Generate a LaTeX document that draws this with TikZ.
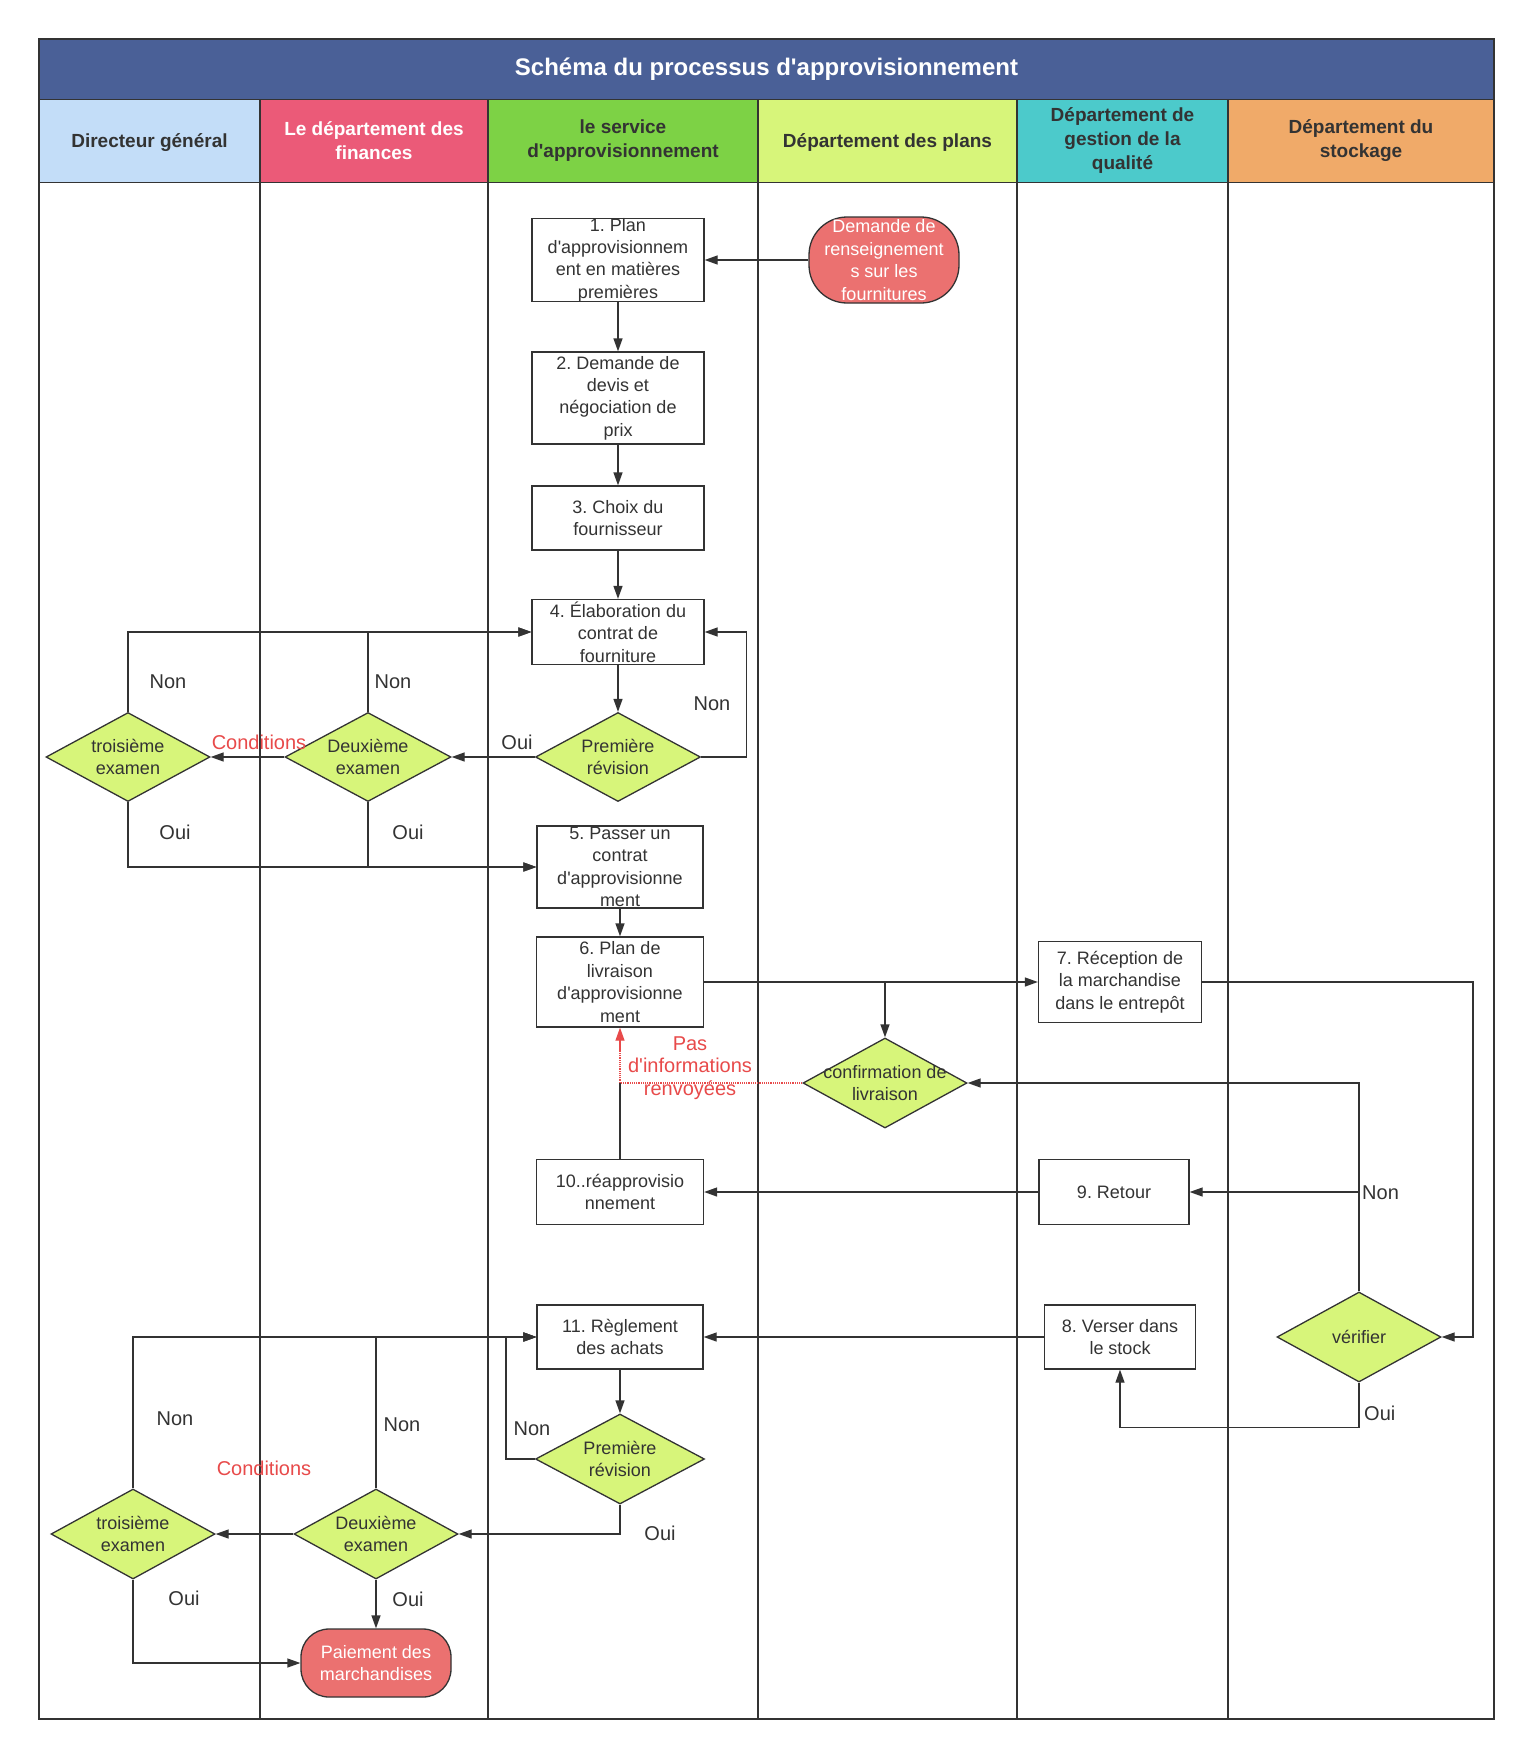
\documentclass[tikz,border=0pt]{standalone}
\usepackage{fontspec}
\setmainfont{Liberation Sans}
\usetikzlibrary{shapes.geometric,arrows.meta}
\definecolor{ink}{HTML}{333333}
\definecolor{titlebg}{HTML}{4A6097}
\definecolor{hdA}{HTML}{C3DDF8}
\definecolor{hdB}{HTML}{EB5A78}
\definecolor{hdC}{HTML}{7DD245}
\definecolor{hdD}{HTML}{D7F57A}
\definecolor{hdE}{HTML}{4CCACB}
\definecolor{hdF}{HTML}{F0AA69}
\definecolor{dfill}{HTML}{D7F57A}
\definecolor{rfill}{HTML}{EB7170}
\definecolor{redtxt}{HTML}{E84A4A}
\newcommand{\qs}{\textquotesingle}
\frenchspacing
\tikzset{
  lane/.style={draw=ink, line width=1.2pt},
  hdr/.style={align=center, inner sep=0, font=\fontsize{19}{24}\selectfont\bfseries, text=ink},
  boxs/.style={draw=ink, line width=1.3pt, fill=white, rectangle, inner sep=0},
  dias/.style={draw=ink, line width=1.3pt, fill=dfill, diamond, inner sep=0},
  terms/.style={draw=ink, line width=1.3pt, fill=rfill, rectangle, inner sep=0},
  txt/.style={align=center, inner sep=0, font=\fontsize{18}{22.4}\selectfont, text=ink},
  wtxt/.style={txt, text=white},
  lbl/.style={inner sep=0, font=\fontsize{20}{24}\selectfont, text=ink},
  rlbl/.style={align=center, inner sep=0, font=\fontsize{20}{22.4}\selectfont, text=redtxt},
  arr/.style={draw=ink, line width=1.3pt, -{Triangle[length=13pt,width=9pt]}},
  ln/.style={draw=ink, line width=1.3pt},
}
\begin{document}
\frenchspacing
\begin{tikzpicture}[x=1pt,y=-1pt]
\useasboundingbox (0,0) rectangle (1530,1755);
\fill[white] (0,0) rectangle (1530,1755);
% title and headers
\fill[titlebg] (39,39) rectangle (1494,99.6);
\node[inner sep=0, font=\fontsize{24}{28}\selectfont\bfseries, text=white] (title) at (766.5,69) {Schéma du processus d\qs approvisionnement};
\fill[hdA] (39,99.6) rectangle (260,182.5);
\fill[hdB] (260,99.6) rectangle (488,182.5);
\fill[hdC] (488,99.6) rectangle (758,182.5);
\fill[hdD] (758,99.6) rectangle (1017,182.5);
\fill[hdE] (1017,99.6) rectangle (1228,182.5);
\fill[hdF] (1228,99.6) rectangle (1494,182.5);
\node[hdr] (h1) at (149.5,143) {Directeur général};
\node[hdr, text=white] (h2) at (374,141) {Le département des\\finances};
\node[hdr] (h3) at (623,141) {le service\\d\qs approvisionnement};
\node[hdr] (h4) at (887.5,143) {Département des plans};
\node[hdr] (h5) at (1122.5,141) {Département de\\gestion de la\\qualité};
\node[hdr] (h6) at (1361,141) {Département du\\stockage};
% lanes
\draw[lane] (39,39) rectangle (1494,1719);
\draw[lane] (39,99.6) -- (1494,99.6);
\draw[lane] (39,182.5) -- (1494,182.5);
\foreach \xx in {260,488,758,1017,1228} \draw[lane] (\xx,99.6) -- (\xx,1719);

% nodes
\node[boxs, minimum width=172, minimum height=83] (n1) at (618,260) {};
\node[txt] (n1t) at (n1) {1. Plan\\d\qs approvisionnem\\ent en matières\\premières};
\node[terms, rounded corners=38pt, minimum width=150, minimum height=86] (dem) at (884,260) {};
\node[wtxt] (demt) at (dem) {Demande de\\renseignement\\s sur les\\fournitures};
\node[boxs, minimum width=172, minimum height=92] (n2) at (618,398) {};
\node[txt] (n2t) at (n2) {2. Demande de\\devis et\\négociation de\\prix};
\node[boxs, minimum width=172, minimum height=64] (n3) at (618,518) {};
\node[txt] (n3t) at (n3) {3. Choix du\\fournisseur};
\node[boxs, minimum width=172, minimum height=65] (n4) at (618,632) {};
\node[txt] (n4t) at (n4) {4. Élaboration du\\contrat de\\fourniture};
\node[dias, minimum width=165, minimum height=89] (d1) at (618,757) {};
\node[txt] (d1t) at (d1) {Première\\révision};
\node[dias, minimum width=166, minimum height=89] (d2) at (368,757) {};
\node[txt] (d2t) at (d2) {Deuxième\\examen};
\node[dias, minimum width=164, minimum height=89] (d3) at (128,757) {};
\node[txt] (d3t) at (d3) {troisième\\examen};
\node[boxs, minimum width=166, minimum height=82] (n5) at (620,867) {};
\node[txt] (n5t) at (n5) {5. Passer un\\contrat\\d\qs approvisionne\\ment};
\node[boxs, minimum width=167, minimum height=90] (n6) at (620,982) {};
\node[txt] (n6t) at (n6) {6. Plan de\\livraison\\d\qs approvisionne\\ment};
\node[boxs, minimum width=163, minimum height=81] (n7) at (1120,982) {};
\node[txt] (n7t) at (n7) {7. Réception de\\la marchandise\\dans le entrepôt};
\node[dias, minimum width=164, minimum height=90] (conf) at (885,1083) {};
\node[txt] (conft) at (conf) {confirmation de\\livraison};
\node[boxs, minimum width=150, minimum height=65] (r9) at (1114,1192) {};
\node[txt] (r9t) at (r9) {9. Retour};
\node[boxs, minimum width=167, minimum height=65] (n10) at (620,1192) {};
\node[txt] (n10t) at (n10) {10..réapprovisio\\nnement};
\node[dias, minimum width=164, minimum height=90] (ver) at (1359,1337) {};
\node[txt] (vert) at (ver) {vérifier};
\node[boxs, minimum width=151, minimum height=64] (n8) at (1120,1337) {};
\node[txt] (n8t) at (n8) {8. Verser dans\\le stock};
\node[boxs, minimum width=166, minimum height=64] (n11) at (620,1337) {};
\node[txt] (n11t) at (n11) {11. Règlement\\des achats};
\node[dias, minimum width=169, minimum height=90] (p2) at (620,1459) {};
\node[txt] (p2t) at (p2) {Première\\révision};
\node[dias, minimum width=164, minimum height=90] (d22) at (376,1534) {};
\node[txt] (d22t) at (d22) {Deuxième\\examen};
\node[dias, minimum width=164, minimum height=90] (d32) at (133,1534) {};
\node[txt] (d32t) at (d32) {troisième\\examen};
\node[terms, rounded corners=28pt, minimum width=150, minimum height=68] (pay) at (376,1663) {};
\node[wtxt] (payt) at (pay) {Paiement des\\marchandises};

% connectors - top part
\draw[arr] (dem.west) -- (n1.east);
\draw[arr] (n1.south) -- (n2.north);
\draw[arr] (n2.south) -- (n3.north);
\draw[arr] (n3.south) -- (n4.north);
\draw[arr] (n4.south) -- (d1.north);
\draw[arr] (d1.east) -- ++(45,0) |- (n4.east);
\draw[arr] (d1.west) -- (d2.east);
\draw[arr] (d2.west) -- (d3.east);
\draw[arr] (d2.north) |- (n4.west);
\draw[arr] (d3.north) |- (n4.west);
\draw[arr] (d2.south) |- (n5.west);
\draw[arr] (d3.south) |- (n5.west);
\draw[arr] (n5.south) -- (n6.north);
\node[lbl] (l1) at (712,704) {Non};
\node[lbl] (l2) at (517,742) {Oui};
\node[rlbl] (l3) at (259,742) {Conditions};
\node[lbl] (l4) at (393,682) {Non};
\node[lbl] (l5) at (168,682) {Non};
\node[lbl] (l6) at (408,832) {Oui};
\node[lbl] (l7) at (175,832) {Oui};

% middle part
\coordinate (c7) at (1473,982);
\draw[arr] (n6.east) -- (n7.west);
\draw[arr] (conf.north |- n6.east) -- (conf.north);
\draw[arr] (n7.east) -- (c7) |- (ver.east);
\draw[arr] (ver.north) |- (conf.east);
\draw[arr] (ver.north |- r9.east) -- (r9.east);
\draw[arr] (r9.west) -- (n10.east);
\coordinate (j6) at (n6.south |- conf.west);
\coordinate (j7) at ([yshift=-22pt]n6.south);
\draw[ln] (n10.north) -- (j6);
\draw[draw=redtxt, line width=1.2pt, densely dotted] (conf.west) -- (j6) -- (j7);
\draw[draw=redtxt, line width=1.2pt, -{Triangle[length=13pt,width=9pt]}] (j7) -- (n6.south);
\node[rlbl] (l8) at (690,1068) {Pas\\d\qs informations\\renvoyées};
\node[lbl, anchor=west] (l9) at (1362,1193) {Non};

% bottom part
\draw[arr] (n8.west) -- (n11.east);
\draw[arr] (ver.south) -- ++(0,45) -| (n8.south);
\node[lbl, anchor=west] (l10) at (1364,1413) {Oui};
\draw[arr] (n11.south) -- (p2.north);
\draw[arr] (p2.west) -- ++(-29,0) |- (n11.west);
\draw[arr] (p2.south) |- (d22.east);
\draw[arr] (d22.west) -- (d32.east);
\draw[arr] (d22.north) |- (n11.west);
\draw[arr] (d32.north) |- (n11.west);
\draw[arr] (d22.south) -- (pay.north);
\draw[arr] (d32.south) |- (pay.west);
\node[lbl] (l11) at (532,1429) {Non};
\node[lbl] (l12) at (660,1533) {Oui};
\node[rlbl] (l13) at (264,1468) {Conditions};
\node[lbl] (l14) at (402,1425) {Non};
\node[lbl] (l15) at (175,1419) {Non};
\node[lbl] (l16) at (408,1599) {Oui};
\node[lbl] (l17) at (184,1598) {Oui};
\end{tikzpicture}
\end{document}
